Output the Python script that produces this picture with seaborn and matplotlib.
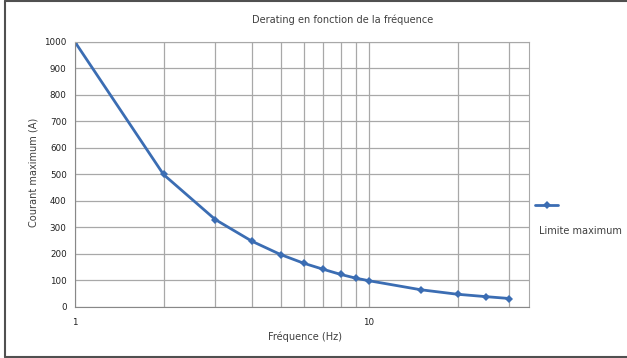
import numpy as np
import pandas as pd
import seaborn as sns
import matplotlib.pyplot as plt
from matplotlib.lines import Line2D
from matplotlib.ticker import FixedLocator, NullFormatter

# Data
freq = [1, 2, 3, 4, 5, 6, 7, 8, 9, 10, 15, 20, 25, 30]
courant = [1000, 500, 330, 248, 198, 165, 142, 123, 109, 99, 65, 48, 39, 32]
serie = "Limite maximum"
df = pd.DataFrame({"Fréquence (Hz)": freq, "Courant maximum (A)": courant})

sns.set_style("white")
plt.rcParams['font.family'] = ['DejaVu Sans']
plt.rcParams['font.stretch'] = 'condensed'
blue = '#3b6db3'
grid = '#a8a8a8'
txt = '#404040'
fs = 7.8

fig = plt.figure(figsize=(6.27, 3.58), dpi=100)
W, H = 627, 358
ax = fig.add_axes([0.1196, 0.1425, 0.8437 - 0.1196, 0.8827 - 0.1425])

sns.lineplot(data=df, x="Fréquence (Hz)", y="Courant maximum (A)", ax=ax,
             color=blue, linewidth=2, marker='D', markersize=4,
             markeredgewidth=0, markerfacecolor=blue)

ax.set_xscale('log')
ax.set_xlim(1, 35)
ax.set_ylim(0, 1000)
ax.xaxis.set_major_locator(FixedLocator([1, 10]))
ax.xaxis.set_minor_locator(FixedLocator([2, 3, 4, 5, 6, 7, 8, 9, 20, 30]))
ax.xaxis.set_minor_formatter(NullFormatter())
ax.set_xticklabels(['1', '10'])
ax.set_yticks(range(0, 1001, 100))
ax.grid(True, which='both', axis='both', color=grid, linewidth=0.9)
ax.set_axisbelow(True)
for side in ['top', 'right']:
    ax.spines[side].set_color(grid)
ax.spines['left'].set_color('#888888')
ax.spines['bottom'].set_color('#888888')
ax.tick_params(axis='both', which='major', labelsize=6.3, length=3,
               color='#888888', pad=3, labelcolor='#202020')
ax.tick_params(axis='x', which='minor', length=0)
ax.tick_params(axis='x', which='major', pad=5)
for lab in ax.get_xticklabels() + ax.get_yticklabels():
    lab.set_fontstretch('normal')
ax.set_xlabel('')
ax.set_ylabel('')

fig.text(343 / W, 1 - 20 / H, "Derating en fonction de la fréquence",
         fontsize=fs, color=txt, ha='center', va='center')
fig.text(305 / W, 1 - 337 / H, "Fréquence (Hz)", fontsize=fs, color=txt,
         ha='center', va='center')
fig.text(33 / W, 1 - 172 / H, "Courant maximum (A)", fontsize=fs, color=txt,
         ha='center', va='center', rotation=90)

# legend: marker line with label underneath (Excel style)
handle = Line2D([], [], color=blue, linewidth=2, marker='D', markersize=4,
                markeredgewidth=0)
ax.legend([handle], [''], loc='center', bbox_to_anchor=(546.5 / W, 1 - 206 / H),
          bbox_transform=fig.transFigure, frameon=False, handlelength=1.6,
          handletextpad=0, borderpad=0)
fig.text(580 / W, 1 - 231 / H, serie, fontsize=fs, color=txt,
         ha='center', va='center')

# outer frame
fig.add_artist(Line2D([0.008, 0.008], [0.003, 0.997], color='#505050',
                      linewidth=1.5, transform=fig.transFigure))
fig.add_artist(Line2D([0.008, 1.0], [0.997, 0.997], color='#505050',
                      linewidth=1.5, transform=fig.transFigure))
fig.add_artist(Line2D([0.008, 1.0], [0.003, 0.003], color='#505050',
                      linewidth=1.5, transform=fig.transFigure))

fig.savefig('out.png', dpi=100)
